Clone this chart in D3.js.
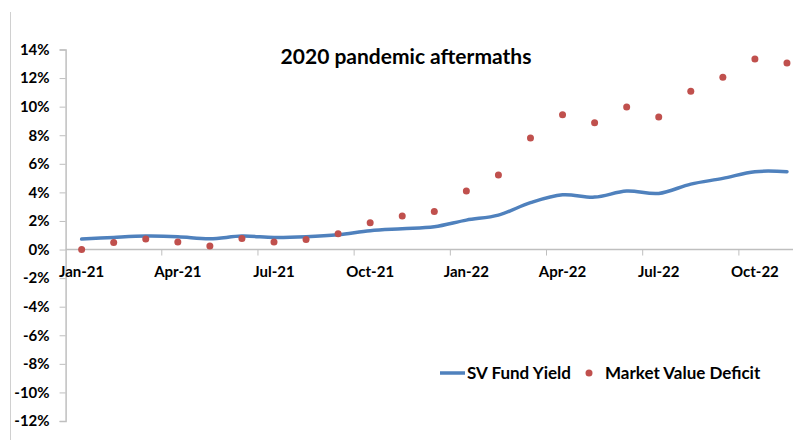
<!DOCTYPE html>
<html>
<head>
<meta charset="utf-8">
<script src="https://cdn.jsdelivr.net/npm/d3@7"></script>
<style>
  body { margin: 0; background: #fff; }
  svg text { font-family: Lato, "Open Sans", sans-serif; font-weight: bold; fill: #000; }
</style>
</head>
<body>
<div id="chart"></div>
<script>
// months shown on the category axis
const months = ['Jan-21', 'Feb-21', 'Mar-21', 'Apr-21', 'May-21', 'Jun-21', 'Jul-21', 'Aug-21',
  'Sep-21', 'Oct-21', 'Nov-21', 'Dec-21', 'Jan-22', 'Feb-22', 'Mar-22', 'Apr-22', 'May-22',
  'Jun-22', 'Jul-22', 'Aug-22', 'Sep-22', 'Oct-22', 'Nov-22'];

// values in percent
const fundYield = [0.73, 0.85, 0.94, 0.9, 0.76, 0.94, 0.85, 0.9, 1.04, 1.32, 1.46, 1.6,
  2.06, 2.41, 3.28, 3.83, 3.67, 4.09, 3.93, 4.58, 4.98, 5.45, 5.45];
const marketDeficit = [0.0, 0.5, 0.73, 0.52, 0.25, 0.78, 0.52, 0.71, 1.1, 1.88, 2.34, 2.67,
  4.09, 5.21, 7.8, 9.43, 8.87, 9.97, 9.27, 11.07, 12.05, 13.33, 13.05];

const yTicks = [14, 12, 10, 8, 6, 4, 2, 0, -2, -4, -6, -8, -10, -12];

const width = 793;
const height = 440;
const plot = { left: 65.6, right: 803, top: 49.5, bottom: 421 };

const svg = d3.select('#chart').append('svg')
  .attr('width', width)
  .attr('height', height);

// chart frame edge
svg.append('line')
  .attr('x1', 10.5).attr('x2', 10.5)
  .attr('y1', 12).attr('y2', height)
  .attr('stroke', '#d0d0d0');

const x = d3.scaleBand()
  .domain(months)
  .range([plot.left, plot.right]);

const y = d3.scaleLinear()
  .domain([-12, 14])
  .range([plot.bottom, plot.top]);

// y axis
const yAxis = d3.axisLeft(y)
  .tickValues(yTicks)
  .tickSize(6)
  .tickPadding(10)
  .tickFormat((d) => `${d}%`);

const yAxisG = svg.append('g')
  .attr('transform', `translate(${plot.left},0)`)
  .call(yAxis);
yAxisG.select('.domain').attr('stroke', '#bfbfbf').attr('stroke-width', 1.5);
yAxisG.selectAll('.tick line').attr('stroke', '#bfbfbf');
yAxisG.selectAll('.tick text').style('font-size', '15px');

// x axis at 0%, tick marks every third month
const xAxisG = svg.append('g')
  .attr('transform', `translate(0,${y(0)})`);
xAxisG.append('line')
  .attr('x1', plot.left).attr('x2', plot.right)
  .attr('stroke', '#bfbfbf').attr('stroke-width', 1.5);
xAxisG.selectAll('.xtick')
  .data(months.filter((d, i) => i % 3 === 0 && i > 0))
  .join('line')
  .attr('class', 'xtick')
  .attr('x1', (d) => x(d)).attr('x2', (d) => x(d))
  .attr('y1', 0).attr('y2', 6)
  .attr('stroke', '#bfbfbf');
xAxisG.selectAll('.xlabel')
  .data(months.filter((d, i) => i % 3 === 0))
  .join('text')
  .attr('class', 'xlabel')
  .attr('x', (d) => x(d) + x.bandwidth() / 2)
  .attr('y', 27)
  .attr('text-anchor', 'middle')
  .style('font-size', '15px')
  .text((d) => d);

// SV fund yield line
const line = d3.line()
  .x((d, i) => x(months[i]) + x.bandwidth() / 2)
  .y((d) => y(d))
  .curve(d3.curveCatmullRom.alpha(0.5));

svg.append('path')
  .datum(fundYield)
  .attr('fill', 'none')
  .attr('stroke', '#4f81bd')
  .attr('stroke-width', 3.5)
  .attr('stroke-linecap', 'round')
  .attr('d', line);

// market value deficit markers
svg.selectAll('.dot')
  .data(marketDeficit)
  .join('circle')
  .attr('class', 'dot')
  .attr('cx', (d, i) => x(months[i]) + x.bandwidth() / 2)
  .attr('cy', (d) => y(d))
  .attr('r', 3.5)
  .attr('fill', '#c0504d');

// title
svg.append('text')
  .attr('x', 406)
  .attr('y', 64)
  .attr('text-anchor', 'middle')
  .style('font-size', '21px')
  .text('2020 pandemic aftermaths');

// legend
const legend = svg.append('g').attr('transform', 'translate(440,373)');
legend.append('line')
  .attr('x1', 0).attr('x2', 25)
  .attr('stroke', '#4f81bd').attr('stroke-width', 3.5);
legend.append('text')
  .attr('x', 27).attr('y', 6)
  .style('font-size', '17px')
  .text('SV Fund Yield');
legend.append('circle')
  .attr('cx', 149).attr('cy', 0).attr('r', 3.5)
  .attr('fill', '#c0504d');
legend.append('text')
  .attr('x', 165).attr('y', 6)
  .style('font-size', '17px')
  .text('Market Value Deficit');
</script>
</body>
</html>
